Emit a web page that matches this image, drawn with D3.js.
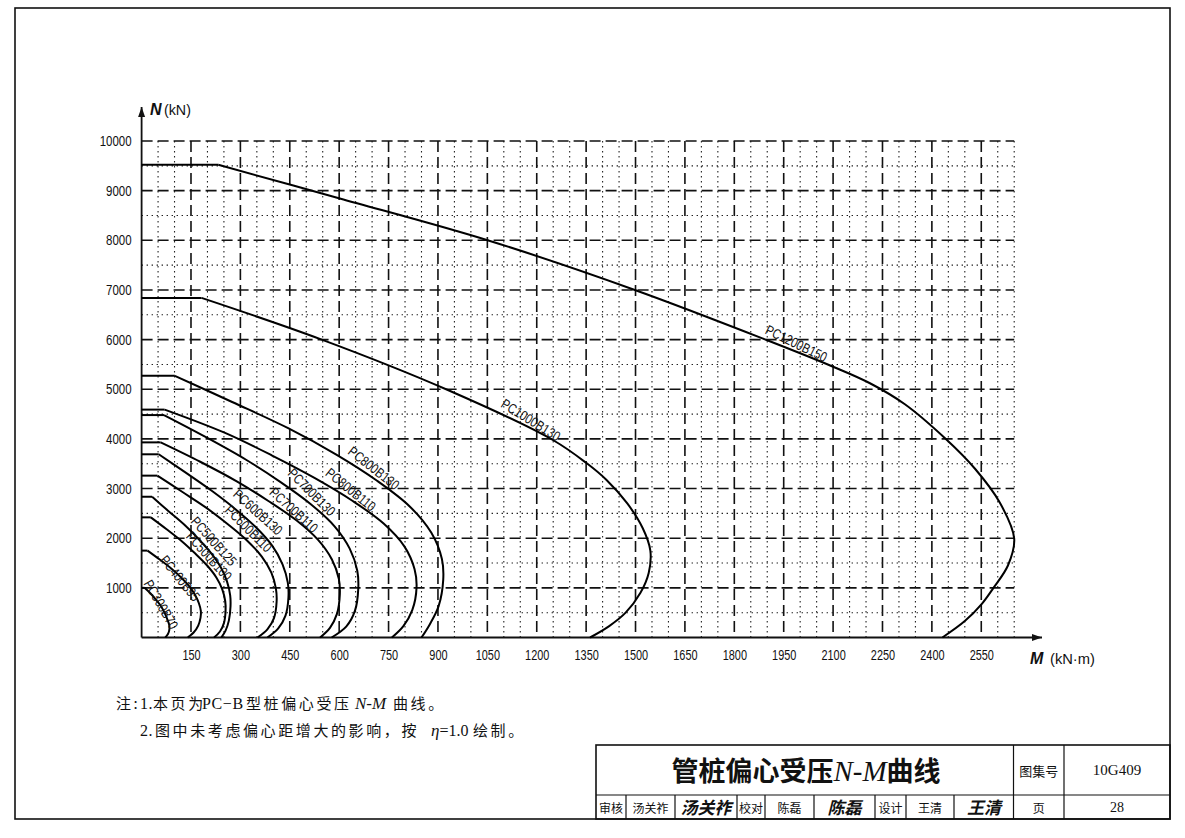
<!DOCTYPE html>
<html><head><meta charset="utf-8">
<script src="https://cdn.jsdelivr.net/npm/d3@7"></script>
<style>
body{margin:0;background:#fff;}
.nar{font-family:"Liberation Sans",Arial,sans-serif;}
.cjk{font-family:"Noto Sans CJK SC","Noto Sans",sans-serif;}
.ser{font-family:"Liberation Serif","DejaVu Serif",serif;}
</style></head><body>
<svg id="c" width="1185" height="838"></svg>
<script>
// ---------- data (M in kN·m, N in kN) ----------
const xTicks = [150,300,450,600,750,900,1050,1200,1350,1500,1650,1800,1950,2100,2250,2400,2550];
const yTicks = [1000,2000,3000,4000,5000,6000,7000,8000,9000,10000];

const PC300B70  = [[0,1000],[9,1000],[28,880],[45,750],[60,620],[71,480],[79,350],[84,250],[84,150],[80,70],[72,0]];
const PC400B95  = [[0,1750],[18,1750],[55,1570],[90,1390],[120,1210],[145,1030],[162,860],[174,690],[180,530],[179,400],[172,240],[158,100],[140,0]];
const PC500B100 = [[0,2420],[28,2420],[76,2180],[122,1940],[163,1690],[199,1450],[227,1210],[245,970],[254,730],[255,530],[250,290],[238,120],[220,0]];
const PC500B125 = [[0,2835],[32,2835],[81,2550],[130,2270],[173,1985],[211,1700],[240,1420],[259,1135],[269,850],[270,625],[265,340],[255,140],[242,0]];
const PC600B110 = [[0,3260],[48,3260],[123,2935],[197,2610],[262,2280],[320,1955],[365,1630],[394,1305],[408,980],[410,720],[402,390],[382,165],[352,0]];
const PC600B130 = [[0,3690],[52,3690],[134,3320],[214,2950],[285,2585],[348,2215],[397,1845],[428,1475],[444,1105],[446,810],[437,440],[415,185],[382,0]];
const PC700B110 = [[0,3930],[58,3930],[178,3540],[289,3145],[385,2750],[470,2360],[536,1965],[578,1570],[599,1180],[602,865],[593,470],[572,195],[542,0]];
const PC700B130 = [[0,4480],[68,4480],[197,4030],[316,3585],[421,3135],[513,2690],[586,2240],[632,1790],[655,1345],[658,985],[648,540],[622,225],[577,0]];
const PC800B110 = [[0,4590],[70,4590],[250,4130],[395,3670],[525,3215],[640,2755],[735,2295],[798,1835],[829,1375],[835,1010],[822,550],[795,230],[760,0]];
const PC800B130 = [[0,5270],[101,5270],[275,4743],[445,4216],[590,3689],[714,3162],[815,2635],[880,2108],[912,1581],[916,1160],[902,632],[875,264],[850,0]];
const PC1000B130 = [[0,6840],[182,6840],[547,6000],[930,4985],[1249,3978],[1352,3508],[1412,3172],[1475,2700],[1522,2200],[1545,1750],[1540,1300],[1515,900],[1470,500],[1420,230],[1362,0]];
const PC1200B150 = [[0,9520],[233,9520],[602,8842],[1058,7986],[1498,7000],[1898,5992],[2100,5454],[2212,5121],[2318,4698],[2440,4013],[2531,3399],[2607,2709],[2650,1990],[2631,1450],[2586,990],[2553,689],[2500,330],[2432,0]];

const seriesNames = ["PC300B70","PC400B95","PC500B100","PC500B125","PC600B110","PC600B130","PC700B110","PC700B130","PC800B110","PC800B130","PC1000B130","PC1200B150"];
const seriesData  = [PC300B70,PC400B95,PC500B100,PC500B125,PC600B110,PC600B130,PC700B110,PC700B130,PC800B110,PC800B130,PC1000B130,PC1200B150];
// label centre (M, N) and rotation for each curve label
const labelAt    = [[56,655],[114,1178],[202,1621],[217,1923],[322,2175],[351,2508],[460,2548],[514,2911],[633,2960],[703,3394],[1180,4361],[1987,5900]];
const labelAngle = [60,51,48,48,45,42,42,45,39,38,32,26];

// ---------- drawing ----------
const svg = d3.select("#c");
const x = d3.scaleLinear().domain([0,2650]).range([141.6,1014.2]);
const y = d3.scaleLinear().domain([0,10000]).range([637.5,141]);

function condense(sel,f){
  sel.each(function(){
    const L=this.getComputedTextLength();
    d3.select(this).attr("textLength",L*f).attr("lengthAdjust","spacingAndGlyphs");
  });
}

// page frame
svg.append("rect").attr("x",15).attr("y",8).attr("width",1155).attr("height",811)
  .attr("fill","none").attr("stroke","#111").attr("stroke-width",1.6);

const g = svg.append("g");
// vertical grid
const vMinor = d3.range(50,2651,50).filter(v=>v%150!==0);
g.selectAll(".vmin").data(vMinor).join("line")
  .attr("x1",d=>x(d)).attr("x2",d=>x(d)).attr("y1",y(10000)).attr("y2",y(0))
  .attr("stroke","#222").attr("stroke-width",1.1).attr("stroke-dasharray","1.4,3.6");
g.selectAll(".vmaj").data(xTicks).join("line")
  .attr("x1",d=>x(d)).attr("x2",d=>x(d)).attr("y1",y(10000)).attr("y2",y(0))
  .attr("stroke","#111").attr("stroke-width",1.6).attr("stroke-dasharray","11,5");
// horizontal grid
const hMinor = d3.range(500,10000,1000);
g.selectAll(".hmin").data(hMinor).join("line")
  .attr("x1",x(0)).attr("x2",x(2650)).attr("y1",d=>y(d)).attr("y2",d=>y(d))
  .attr("stroke","#222").attr("stroke-width",1.1).attr("stroke-dasharray","1.4,3.6");
g.selectAll(".hmaj").data(yTicks).join("line")
  .attr("x1",x(0)).attr("x2",x(2650)).attr("y1",d=>y(d)).attr("y2",d=>y(d))
  .attr("stroke","#111").attr("stroke-width",1.6).attr("stroke-dasharray","11,5");

// axes lines with arrows
svg.append("defs").append("marker").attr("id","arr").attr("viewBox","0 0 10 10")
  .attr("refX",10).attr("refY",5).attr("markerWidth",10).attr("markerHeight",10)
  .attr("markerUnits","userSpaceOnUse").attr("orient","auto")
  .append("path").attr("d","M0,1.5L10,5L0,8.5Z").attr("fill","#111");
svg.append("line").attr("x1",x(0)).attr("x2",1042).attr("y1",y(0)).attr("y2",y(0))
  .attr("stroke","#111").attr("stroke-width",1.8).attr("marker-end","url(#arr)");
svg.append("line").attr("x1",x(0)).attr("x2",x(0)).attr("y1",y(0)).attr("y2",107)
  .attr("stroke","#111").attr("stroke-width",1.8).attr("marker-end","url(#arr)");

// tick labels via d3 axes
const xa = svg.append("g").attr("transform",`translate(0,${y(0)})`)
  .call(d3.axisBottom(x).tickValues(xTicks).tickFormat(d3.format("d")).tickSize(0).tickPadding(13));
xa.select(".domain").remove();
xa.selectAll("text").attr("class","nar").attr("font-size",14).attr("fill","#111").call(condense,0.78);
const ya = svg.append("g").attr("transform",`translate(${x(0)},0)`)
  .call(d3.axisLeft(y).tickValues(yTicks).tickFormat(d3.format("d")).tickSize(0).tickPadding(10));
ya.select(".domain").remove();
ya.selectAll("text").attr("class","nar").attr("font-size",14).attr("fill","#111").call(condense,0.82);

// axis titles
svg.append("text").attr("x",150).attr("y",115).attr("class","nar").attr("fill","#111")
  .attr("font-size",16).attr("font-style","italic").attr("font-weight","bold").text("N");
svg.append("text").attr("x",164).attr("y",115).attr("class","nar").attr("fill","#111")
  .attr("font-size",15).text("(kN)").call(condense,0.95);
svg.append("text").attr("x",1030).attr("y",664).attr("class","nar").attr("fill","#111")
  .attr("font-size",16).attr("font-style","italic").attr("font-weight","bold").text("M");
svg.append("text").attr("x",1050).attr("y",664).attr("class","nar").attr("fill","#111")
  .attr("font-size",15).text("(kN·m)").call(condense,0.98);

// curves
const flatLine = d3.line().x(d=>x(d[0])).y(d=>y(d[1]));
const bodyLine = d3.line().x(d=>x(d[0])).y(d=>y(d[1])).curve(d3.curveCatmullRom.alpha(0.5));
const cg = svg.append("g");
seriesData.forEach(s=>{
  cg.append("path").attr("d",flatLine(s.slice(0,2))).attr("fill","none").attr("stroke","#000").attr("stroke-width",2);
  cg.append("path").attr("d",bodyLine(s.slice(1))).attr("fill","none").attr("stroke","#000").attr("stroke-width",2);
});
// curve labels
seriesNames.forEach((n,i)=>{
  const px=x(labelAt[i][0]), py=y(labelAt[i][1]);
  svg.append("text").attr("class","nar").attr("font-size",14).attr("fill","#111")
    .attr("text-anchor","middle").attr("dominant-baseline","middle")
    .attr("transform",`translate(${px},${py}) rotate(${labelAngle[i]})`).text(n).call(condense,0.8);
});

// notes
const notes = svg.append("g").attr("class","cjk").attr("fill","#111").attr("font-size",15);
function seg(t,xx,txt,opt){
  const s=t.append("tspan").attr("x",xx).text(txt);
  if(opt==="cjk") s.attr("letter-spacing",2.6);
  if(opt==="lat") s.attr("class","ser").attr("font-size",16).attr("letter-spacing",0.6);
  if(opt==="it") s.attr("class","ser").attr("font-style","italic").attr("font-size",17);
  return s;
}
const n1 = notes.append("text").attr("y",709);
seg(n1,116,"注:","cjk"); seg(n1,140,"1.","lat"); seg(n1,153,"本页为","cjk");
seg(n1,202,"PC−B","lat"); seg(n1,246,"型桩偏心受压","cjk"); seg(n1,355,"N-M","it"); seg(n1,393,"曲线。","cjk");
const n2 = notes.append("text").attr("y",736);
seg(n2,140,"2.","lat"); seg(n2,155,"图中未考虑偏心距增大的影响，按","cjk");
seg(n2,431,"η","it"); n2.append("tspan").attr("class","ser").attr("font-size",16).text("=1.0");
seg(n2,473,"绘制。","cjk");

// title block
const tb = svg.append("g").attr("stroke","#111").attr("fill","none");
tb.append("rect").attr("x",596).attr("y",745).attr("width",574).attr("height",74).attr("stroke-width",1.6);
tb.append("line").attr("x1",596).attr("x2",1170).attr("y1",795).attr("y2",795).attr("stroke-width",1.2);
[1013.5,1064].forEach(v=>tb.append("line").attr("x1",v).attr("x2",v).attr("y1",745).attr("y2",819).attr("stroke-width",1.2));
[626,675,737,765,814,875,906,954].forEach(v=>tb.append("line").attr("x1",v).attr("x2",v).attr("y1",795).attr("y2",819).attr("stroke-width",1.2));

const tt = svg.append("text").attr("x",806).attr("y",781).attr("text-anchor","middle").attr("fill","#111").attr("class","cjk").attr("font-size",27).attr("font-weight","bold");
tt.append("tspan").text("管桩偏心受压");
tt.append("tspan").attr("class","ser").attr("font-style","italic").attr("font-weight","normal").attr("font-size",29).text("N-M");
tt.append("tspan").text("曲线");

function cell(txt,cx,cy,size,cls,extra){
  const t=svg.append("text").attr("x",cx).attr("y",cy).attr("text-anchor","middle").attr("dominant-baseline","central")
    .attr("class",cls).attr("font-size",size).attr("fill","#111").text(txt);
  if(extra) extra(t);
  return t;
}
cell("图集号",1038.7,770,13,"cjk");
cell("10G409",1117,770,15,"ser");
cell("审核",611,807,12,"cjk");
cell("汤关祚",650.5,807,12,"cjk");
cell("汤关祚",706,806,17,"cjk",t=>t.attr("font-style","italic").attr("font-weight","bold"));
cell("校对",751,807,12,"cjk");
cell("陈磊",789.5,807,12,"cjk");
cell("陈磊",844.5,806,17,"cjk",t=>t.attr("font-style","italic").attr("font-weight","bold"));
cell("设计",890.5,807,12,"cjk");
cell("王清",930,807,12,"cjk");
cell("王清",984,806,17,"cjk",t=>t.attr("font-style","italic").attr("font-weight","bold"));
cell("页",1038.7,807,12,"cjk");
cell("28",1117,807,14,"ser");
</script>
</body></html>
